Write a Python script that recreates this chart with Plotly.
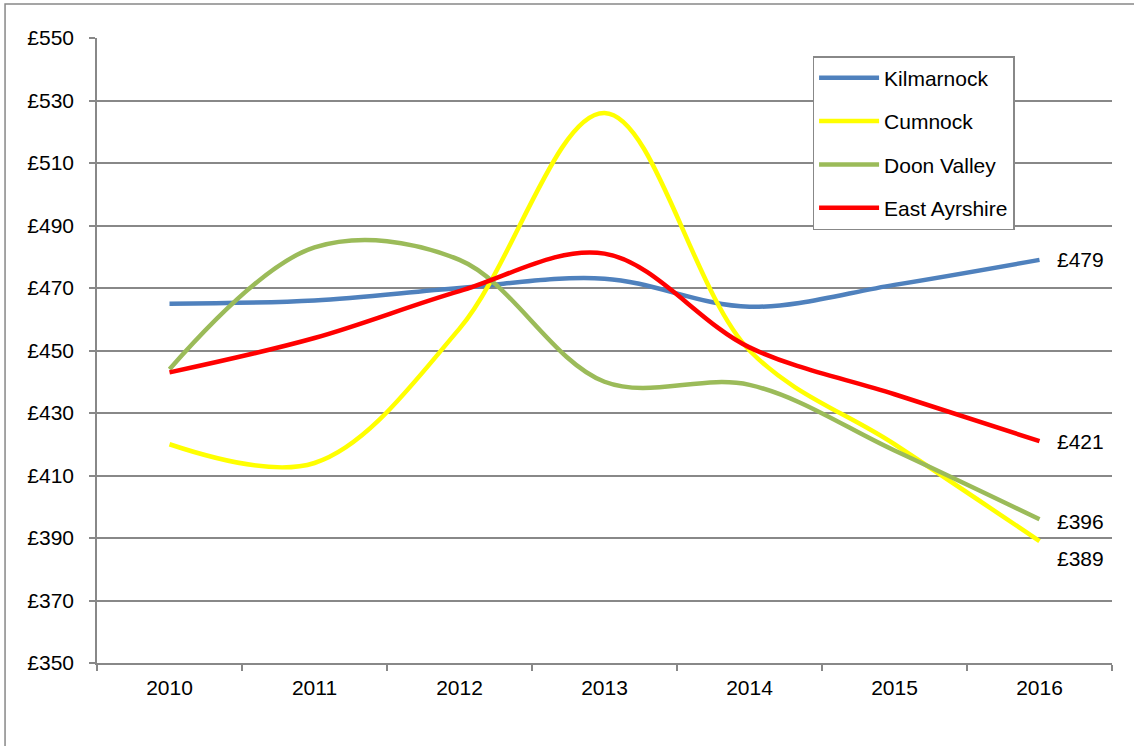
import plotly.graph_objects as go

years = ["2010", "2011", "2012", "2013", "2014", "2015", "2016"]
kilmarnock = [465, 466, 470, 473, 464, 471, 479]
cumnock = [420, 414, 457, 526, 450, 420, 389]
doon_valley = [444, 483, 479, 440, 439, 418, 396]
east_ayrshire = [443, 454, 469, 481, 451, 436, 421]

series_names = ["Kilmarnock", "Cumnock", "Doon Valley", "East Ayrshire"]
series_values = [kilmarnock, cumnock, doon_valley, east_ayrshire]
colors = ["#4F81BD", "#FFFF00", "#9BBB59", "#FF0000"]
label_yshift = [0, -17, -2, 0]

FONT = "Liberation Sans, Arial, sans-serif"
FS = 21

fig = go.Figure()
for name, vals, col in zip(series_names, series_values, colors):
    fig.add_trace(go.Scatter(
        x=years, y=vals, name=name, mode="lines",
        line=dict(color=col, width=4.5, shape="spline", smoothing=1),
        legendgroup=name,
    ))

last_idx = len(years) - 1
for vals, ys in zip(series_values, label_yshift):
    fig.add_annotation(
        x=last_idx, y=vals[-1], xref="x", yref="y",
        text="£" + str(vals[-1]), showarrow=False,
        xanchor="left", yanchor="middle", xshift=15, yshift=ys,
        font=dict(family=FONT, size=FS, color="black"),
    )

# outer chart border
fig.add_shape(type="rect", xref="paper", yref="paper",
              x0=-0.0906, x1=1.2, y0=-0.3, y1=1.0544,
              line=dict(color="#888888", width=1.5), layer="below")

fig.update_layout(
    width=1134, height=746,
    margin=dict(l=97, r=22, t=38, b=83),
    paper_bgcolor="white", plot_bgcolor="white",
    font=dict(family=FONT, size=FS, color="black"),
    showlegend=True,
    legend=dict(
        x=0.705, y=0.971, xanchor="left", yanchor="top",
        bordercolor="#888888", borderwidth=1.5, bgcolor="white",
        font=dict(family=FONT, size=FS, color="black"),
        tracegroupgap=13, traceorder="grouped", itemwidth=60,
    ),
    xaxis=dict(
        type="category", showgrid=False, range=[-0.5, last_idx + 0.5],
        showline=True, linecolor="#888888", linewidth=1.5,
        ticks="outside", tickson="boundaries", ticklen=6,
        tickcolor="#888888", tickwidth=1.5, tickangle=0,
        ticklabelstandoff=5,
        tickfont=dict(family=FONT, size=FS, color="black"),
        fixedrange=True,
    ),
    yaxis=dict(
        range=[350, 550], dtick=20, tick0=350, tickprefix="£",
        showgrid=True, gridcolor="#888888", gridwidth=1.5,
        showline=True, linecolor="#888888", linewidth=1.5,
        ticks="outside", ticklen=6, tickcolor="#888888", tickwidth=1.5,
        ticklabelstandoff=11,
        tickfont=dict(family=FONT, size=FS, color="black"),
        zeroline=False,
    ),
)

fig.write_html("out.html", config={"displayModeBar": False},
               post_script="document.body.style.margin='0';")
